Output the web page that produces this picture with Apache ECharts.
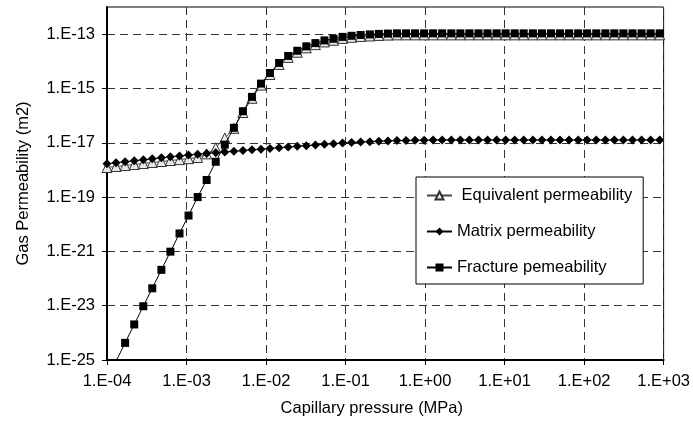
<!DOCTYPE html>
<html>
<head>
<meta charset="utf-8">
<script src="https://cdn.jsdelivr.net/npm/echarts@6/dist/echarts.min.js"></script>
<style>html,body{margin:0;padding:0;background:#fff}#c{width:693px;height:436px}</style>
</head>
<body>
<div id="c"></div>
<script>
// Capillary pressure (MPa)
const pcValues = [1.00e-4,1.30e-4,1.69e-4,2.20e-4,2.86e-4,3.71e-4,4.83e-4,6.27e-4,8.16e-4,1.06e-3,
  1.38e-3,1.79e-3,2.33e-3,3.03e-3,3.94e-3,5.12e-3,6.65e-3,8.65e-3,1.12e-2,1.46e-2,
  1.90e-2,2.47e-2,3.21e-2,4.18e-2,5.43e-2,7.06e-2,9.17e-2,0.119,0.155,0.202,
  0.262,0.341,0.443,0.576,0.748,0.973,1.26,1.64,2.14,2.78,
  3.61,4.70,6.10,7.94,10.3,13.4,17.4,22.7,29.5,38.3,
  49.8,64.7,84.2,109,142,185,240,312,406,528,686,892];

const equivalentK = [1.23e-18,1.34e-18,1.45e-18,1.58e-18,1.72e-18,1.88e-18,2.04e-18,2.22e-18,2.40e-18,2.60e-18,
  2.86e-18,3.9e-18,6.5e-18,1.5e-17,3.4e-17,1.3e-16,4.35e-16,1.33e-15,3.27e-15,7.66e-15,
  1.39e-14,2.16e-14,3.12e-14,4.12e-14,5.18e-14,5.95e-14,6.99e-14,7.66e-14,8.21e-14,8.60e-14,
  8.98e-14,9.24e-14,9.42e-14,9.42e-14,9.42e-14,9.42e-14,9.42e-14,9.42e-14,9.42e-14,9.42e-14,
  9.42e-14,9.42e-14,9.42e-14,9.42e-14,9.42e-14,9.42e-14,9.42e-14,9.42e-14,9.42e-14,9.42e-14,
  9.42e-14,9.42e-14,9.42e-14,9.42e-14,9.42e-14,9.42e-14,9.42e-14,9.42e-14,9.42e-14,9.42e-14,9.42e-14,9.42e-14];

const matrixK = [1.68e-18,1.83e-18,1.99e-18,2.17e-18,2.36e-18,2.57e-18,2.79e-18,3.04e-18,3.28e-18,3.54e-18,
  3.79e-18,4.06e-18,4.33e-18,4.59e-18,4.88e-18,5.17e-18,5.48e-18,5.82e-18,6.18e-18,6.55e-18,
  6.95e-18,7.38e-18,7.83e-18,8.30e-18,8.81e-18,9.27e-18,9.75e-18,1.02e-17,1.07e-17,1.10e-17,
  1.14e-17,1.17e-17,1.20e-17,1.22e-17,1.24e-17,1.25e-17,1.26e-17,1.27e-17,1.27e-17,1.27e-17,
  1.27e-17,1.27e-17,1.27e-17,1.27e-17,1.27e-17,1.27e-17,1.27e-17,1.27e-17,1.27e-17,1.27e-17,
  1.27e-17,1.27e-17,1.27e-17,1.27e-17,1.27e-17,1.27e-17,1.27e-17,1.27e-17,1.27e-17,1.27e-17,1.27e-17,1.27e-17];

const fractureK = [1.95e-26,9.1e-26,4.27e-25,2.04e-24,9.55e-24,4.37e-23,2.09e-22,9.77e-22,4.57e-21,2.09e-20,
  1.0e-19,4.27e-19,2.0e-18,8.51e-18,3.55e-17,1.45e-16,4.9e-16,1.51e-15,3.72e-15,8.71e-15,
  1.58e-14,2.45e-14,3.55e-14,4.68e-14,5.89e-14,6.76e-14,7.94e-14,8.71e-14,9.33e-14,9.77e-14,
  1.02e-13,1.05e-13,1.07e-13,1.07e-13,1.07e-13,1.07e-13,1.07e-13,1.07e-13,1.07e-13,1.07e-13,
  1.07e-13,1.07e-13,1.07e-13,1.07e-13,1.07e-13,1.07e-13,1.07e-13,1.07e-13,1.07e-13,1.07e-13,
  1.07e-13,1.07e-13,1.07e-13,1.07e-13,1.07e-13,1.07e-13,1.07e-13,1.07e-13,1.07e-13,1.07e-13,1.07e-13,1.07e-13];

const seriesNames = [' Equivalent permeability', 'Matrix permeability', 'Fracture pemeability'];

const xTickValues = [1e-4,1e-3,1e-2,1e-1,1e0,1e1,1e2,1e3];
const xTickLabels = ['1.E-04','1.E-03','1.E-02','1.E-01','1.E+00','1.E+01','1.E+02','1.E+03'];
const yTickValues = [1e-25,1e-23,1e-21,1e-19,1e-17,1e-15,1e-13];
const yTickLabels = ['1.E-25','1.E-23','1.E-21','1.E-19','1.E-17','1.E-15','1.E-13'];

function labelFor(values, labels, v) {
  const e = Math.round(Math.log10(v));
  for (let i = 0; i < values.length; i++) {
    if (Math.round(Math.log10(values[i])) === e) return labels[i];
  }
  return '';
}
const pairs = arr => pcValues.map((x, i) => [x, arr[i]]);

const FONT = 'Liberation Sans, Arial, sans-serif';
const chart = echarts.init(document.getElementById('c'), null, {renderer: 'canvas'});
chart.setOption({
  animation: false,
  backgroundColor: '#fff',
  textStyle: {fontFamily: FONT},
  grid: {left: 107, right: 27, top: 7, bottom: 76, show: true, borderColor: '#000', borderWidth: 1},
  legend: {
    orient: 'vertical', left: 416, top: 177,
    padding: [10, 11, 8, 10], itemGap: 19, itemWidth: 25, itemHeight: 10,
    backgroundColor: '#fff', borderColor: '#000', borderWidth: 1,
    textStyle: {fontSize: 16.5, color: '#000', fontFamily: FONT},
    data: seriesNames
  },
  xAxis: {
    type: 'log', logBase: 10, min: 1e-4, max: 1e3, interval: 1,
    name: 'Capillary pressure (MPa)', nameLocation: 'middle', nameGap: 40,
    nameTextStyle: {fontSize: 16.5, color: '#000', fontFamily: FONT, padding: [0, 27, 0, 0]},
    axisLine: {lineStyle: {color: '#000', width: 2}},
    axisTick: {show: true, inside: false, length: 5, lineStyle: {color: '#000', width: 1}},
    axisLabel: {fontSize: 16.5, color: '#000', fontFamily: FONT, margin: 13,
      formatter: v => labelFor(xTickValues, xTickLabels, v)},
    splitLine: {show: true, lineStyle: {color: '#333', width: 1, type: [8, 5]}},
    minorTick: {show: false}
  },
  yAxis: {
    type: 'log', logBase: 10, min: 1e-25, max: 1e-12,
    name: 'Gas Permeability (m2)', nameLocation: 'middle', nameGap: 75,
    nameTextStyle: {fontSize: 16.5, color: '#000', fontFamily: FONT},
    axisLine: {lineStyle: {color: '#000', width: 2}},
    axisTick: {show: true, length: 5, lineStyle: {color: '#000', width: 1}, customValues: yTickValues},
    axisLabel: {fontSize: 16.5, color: '#000', fontFamily: FONT, margin: 12, customValues: yTickValues,
      formatter: v => labelFor(yTickValues, yTickLabels, v)},
    splitLine: {show: true, lineStyle: {color: '#333', width: 1, type: [8, 5]}}
  },
  series: [
    {name: seriesNames[0], type: 'line', data: pairs(equivalentK), symbol: 'triangle', symbolSize: 10,
      itemStyle: {color: '#e8e8e8', borderColor: '#333', borderWidth: 1},
      lineStyle: {color: '#444', width: 1}, clip: true, z: 2},
    {name: seriesNames[1], type: 'line', data: pairs(matrixK), symbol: 'diamond', symbolSize: [9, 9],
      itemStyle: {color: '#000'}, lineStyle: {color: '#000', width: 1}, clip: true, z: 3},
    {name: seriesNames[2], type: 'line', data: pairs(fractureK), symbol: 'rect', symbolSize: 8,
      itemStyle: {color: '#000'}, lineStyle: {color: '#000', width: 1}, clip: true, z: 4}
  ]
});
</script>
</body>
</html>
